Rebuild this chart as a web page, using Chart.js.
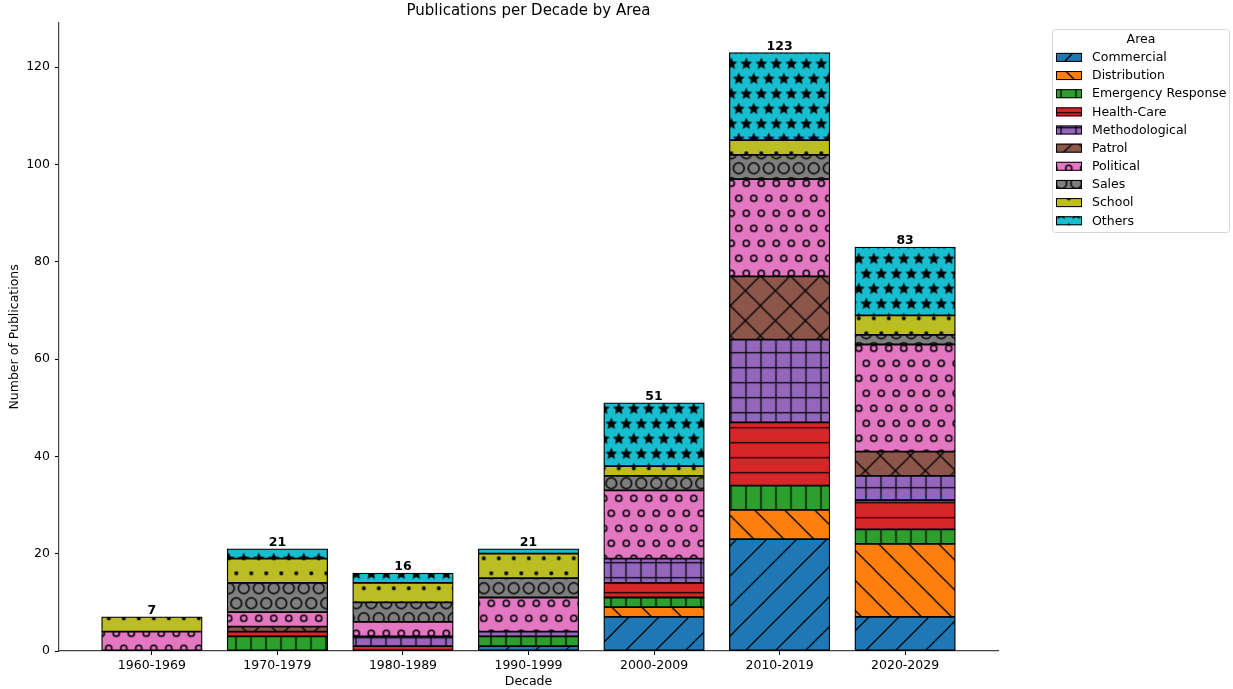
<!DOCTYPE html>
<html lang="en">
<head>
  <meta charset="UTF-8" />
  <title>Publications per Decade by Area</title>
  <script src="https://cdn.jsdelivr.net/npm/chart.js"></script>
  <style>
    body { margin: 0; background: #fff; }
    #wrap { width: 1233px; height: 689px; }
  </style>
</head>
<body>

  <div id="wrap"><canvas id="pubChart"></canvas></div>

  <script>
    const decades = ['1960-1969', '1970-1979', '1980-1989', '1990-1999', '2000-2009', '2010-2019', '2020-2029'];
    const areas = ['Commercial', 'Distribution', 'Emergency Response', 'Health-Care', 'Methodological',
                   'Patrol', 'Political', 'Sales', 'School', 'Others'];

    const commercial     = [0, 0, 0, 1, 7, 23, 7];
    const distribution   = [0, 0, 0, 0, 2, 6, 15];
    const emergency      = [0, 3, 0, 2, 2, 5, 3];
    const healthCare     = [0, 1, 1, 0, 3, 13, 6];
    const methodological = [0, 0, 2, 1, 5, 17, 5];
    const patrol         = [0, 1, 0, 0, 0, 13, 5];
    const political      = [4, 3, 3, 7, 14, 20, 22];
    const sales          = [0, 6, 4, 4, 3, 5, 2];
    const school         = [3, 5, 4, 5, 2, 3, 4];
    const others         = [0, 2, 2, 1, 13, 18, 14];

    const yTicks = [0, 20, 40, 60, 80, 100, 120];

    const series = [commercial, distribution, emergency, healthCare, methodological,
                    patrol, political, sales, school, others];
    const colors = ['#1f77b4', '#ff7f0e', '#2ca02c', '#d62728', '#9467bd',
                    '#8c564b', '#e377c2', '#7f7f7f', '#bcbd22', '#17becf'];
    const hatches = ['/', '\\', '|', '-', '+', 'x', 'o', 'O', '.', '*'];

    const FONT = '"DejaVu Sans", sans-serif';

    // hatch tile -> CanvasPattern (matplotlib-like density, ~15px step)
    function makeHatch(color, hatch) {
      const shapes = 'oO.*'.includes(hatch);
      const diag = '/\\x'.includes(hatch);
      const w = diag ? 30 : 15;
      const h = diag || shapes ? 30 : 15;
      const c = document.createElement('canvas');
      c.width = w; c.height = h;
      const g = c.getContext('2d');
      g.fillStyle = color;
      g.fillRect(0, 0, w, h);
      g.strokeStyle = '#000';
      g.fillStyle = '#000';
      g.lineWidth = 1.25;
      const line = (x1, y1, x2, y2) => { g.beginPath(); g.moveTo(x1, y1); g.lineTo(x2, y2); g.stroke(); };

      let tx = 0, ty = 0;
      if (hatch === '/' || hatch === 'x') { line(0, 30, 30, 0); line(-5, 5, 5, -5); line(25, 35, 35, 25); }
      if (hatch === '\\' || hatch === 'x') { line(0, 0, 30, 30); line(-5, 25, 5, 35); line(25, -5, 35, 5); }
      if (hatch === '|' || hatch === '+') line(7.5, -1, 7.5, 16);
      if (hatch === '-' || hatch === '+') line(-1, 7.5, 16, 7.5);

      if (hatch === '/') tx = 16;
      if (hatch === '\\') tx = 4.7;
      if (hatch === 'x') { tx = 10.35; ty = 5.65; }
      if (hatch === '|') tx = 3.5;
      if (hatch === '-') ty = 0.2;
      if (hatch === '+') { tx = 3.5; ty = 0.2; }

      if (shapes) {
        g.lineWidth = 1.5;
        const spots = [[0, 0], [15, 0], [0, 30], [15, 30], [7.5, 15]];
        spots.forEach(([cx, cy]) => {
          g.beginPath();
          if (hatch === '.') { g.arc(cx, cy, 2, 0, Math.PI * 2); g.fill(); }
          if (hatch === 'o') { g.arc(cx, cy, 3.1, 0, Math.PI * 2); g.stroke(); }
          if (hatch === 'O') { g.arc(cx, cy, 5.4, 0, Math.PI * 2); g.stroke(); }
          if (hatch === '*') {
            for (let k = 0; k < 10; k++) {
              const r = k % 2 === 0 ? 6.3 : 2.9;
              const a = -Math.PI / 2 + k * Math.PI / 5;
              const px = cx + r * Math.cos(a), py = cy + 0.6 + r * Math.sin(a);
              if (k === 0) g.moveTo(px, py); else g.lineTo(px, py);
            }
            g.closePath();
            g.fill();
          }
        });
        tx = 11.3; ty = 3.3;
      }

      const pat = g.createPattern(c, 'repeat');
      pat.setTransform(new DOMMatrix([1, 0, 0, 1, tx, ty]));
      return pat;
    }

    const patterns = areas.map((a, k) => makeHatch(colors[k], hatches[k]));

    const datasets = areas.map((name, k) => ({
      label: name,
      data: series[k].map((v, i) => ({ x: i, y: v })),
      backgroundColor: patterns[k],
      borderColor: '#000',
      borderWidth: 1.3,
      borderSkipped: false,
      inflateAmount: 0.4,
      categoryPercentage: 1,
      barPercentage: 0.8,
    }));

    // totals on top + framed legend at the right
    const extras = {
      id: 'extras',
      afterDatasetsDraw(chart) {
        const { ctx, scales: { x, y } } = chart;
        ctx.save();
        ctx.font = 'bold 12.5px ' + FONT;
        ctx.fillStyle = '#000';
        ctx.textAlign = 'center';
        ctx.textBaseline = 'alphabetic';
        decades.forEach((d, i) => {
          const total = series.reduce((s, arr) => s + arr[i], 0);
          ctx.fillText(String(Math.round(total)), x.getPixelForValue(i), y.getPixelForValue(total) - 3);
        });

        // legend box
        const bx = 1052.5, by = 29.5, bw = 177, bh = 203, r = 3;
        ctx.beginPath();
        ctx.moveTo(bx + r, by);
        ctx.arcTo(bx + bw, by, bx + bw, by + bh, r);
        ctx.arcTo(bx + bw, by + bh, bx, by + bh, r);
        ctx.arcTo(bx, by + bh, bx, by, r);
        ctx.arcTo(bx, by, bx + bw, by, r);
        ctx.closePath();
        ctx.fillStyle = '#fff';
        ctx.fill();
        ctx.strokeStyle = '#d6d6d6';
        ctx.lineWidth = 1;
        ctx.stroke();

        ctx.font = '12.5px ' + FONT;
        ctx.fillStyle = '#000';
        ctx.textBaseline = 'middle';
        ctx.textAlign = 'center';
        ctx.fillText('Area', bx + bw / 2, 40);

        ctx.textAlign = 'left';
        areas.forEach((name, k) => {
          const cy = 57.4 + k * 18.15;
          ctx.fillStyle = patterns[k];
          ctx.fillRect(1056, cy - 4.5, 26, 9);
          ctx.strokeStyle = '#000';
          ctx.strokeRect(1056.5, cy - 4, 25, 8);
          ctx.fillStyle = '#000';
          ctx.fillText(name, 1092, cy + 0.5);
        });
        ctx.restore();
      }
    };

    const tickFont = { family: FONT, size: 12.5 };

    const ctx = document.getElementById('pubChart').getContext('2d');
    const chart = new Chart(ctx, {
      type: 'bar',
      data: { datasets },
      plugins: [extras],
      options: {
        responsive: true,
        maintainAspectRatio: false,
        animation: false,
        devicePixelRatio: 1,
        layout: { padding: { left: 0, right: 235, top: 0, bottom: 0 } },
        plugins: {
          legend: { display: false },
          tooltip: { enabled: false },
          title: {
            display: true,
            text: 'Publications per Decade by Area',
            fullSize: false,
            color: '#000',
            font: { family: FONT, size: 15, weight: 'normal' },
            padding: { top: 2, bottom: 2.7 },
          },
        },
        scales: {
          x: {
            type: 'linear',
            stacked: true,
            offset: false,
            min: -0.74,
            max: 6.74,
            afterBuildTicks: s => { s.ticks = decades.map((d, i) => ({ value: i })); },
            afterFit: s => { s.height = 38; },
            ticks: {
              autoSkip: false,
              maxRotation: 0,
              padding: 3,
              color: '#000',
              font: tickFont,
              callback: v => decades[v],
            },
            grid: { offset: false, drawOnChartArea: false, tickLength: 4, tickColor: '#000' },
            border: { color: '#444', width: 1.2 },
            title: { display: true, text: 'Decade', color: '#000', font: tickFont, padding: 0 },
          },
          y: {
            stacked: true,
            min: 0,
            max: 129.15,
            afterBuildTicks: s => { s.ticks = yTicks.map(v => ({ value: v })); },
            afterFit: s => { s.width = 59; },
            ticks: { padding: 5, color: '#000', font: tickFont },
            grid: { drawOnChartArea: false, tickLength: 4, tickColor: '#000' },
            border: { color: '#444', width: 1.2 },
            title: {
              display: true,
              text: 'Number of Publications',
              color: '#000',
              font: tickFont,
              padding: { top: 7.5, bottom: 0 },
            },
          },
        },
      },
    });
  </script>
</body>
</html>
